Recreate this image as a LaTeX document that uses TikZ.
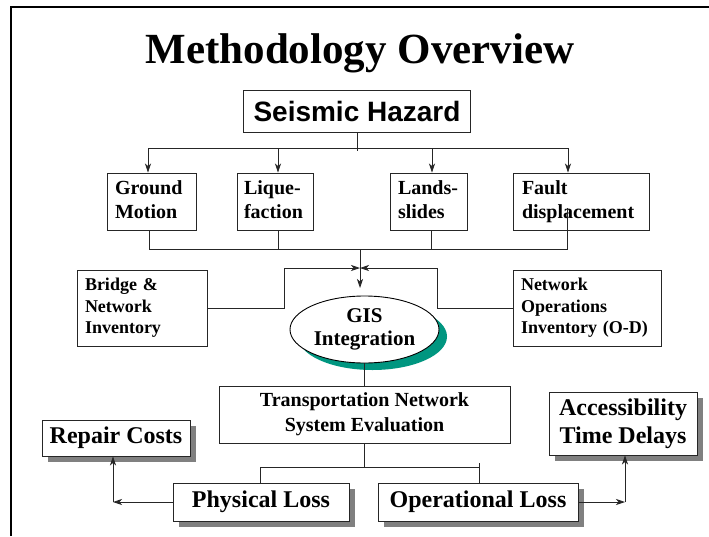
\documentclass[tikz,border=0pt]{standalone}
\usepackage{fontspec}
\setmainfont{Liberation Serif}
\newfontfamily\arialfont{Liberation Sans}
\usetikzlibrary{shapes.geometric,arrows.meta,shadows}
\definecolor{tealshadow}{RGB}{0,150,128}
\definecolor{shadowgray}{RGB}{128,128,128}
\begin{document}
\begin{tikzpicture}[x=1pt,y=-1pt,
  box/.style={draw=black!85, line width=0.9pt, fill=white, inner sep=0pt, font=\bfseries},
  shbox/.style={box, drop shadow={shadow xshift=6pt, shadow yshift=-6pt, fill=shadowgray, opacity=1}},
  hz/.style={box, font=\fontsize{20}{24}\selectfont\bfseries, align=left, minimum height=57pt},
  inv/.style={box, font=\fontsize{18}{21.5}\selectfont\bfseries, align=left, minimum height=76pt},
  big/.style={font=\fontsize{24}{28}\selectfont\bfseries, align=center},
  arr/.style={-{Stealth[length=9pt,width=6pt,inset=2.5pt]}},
  ln/.style={line width=0.8pt, draw=black!85}]

\useasboundingbox (0,0) rectangle (709,536);
\fill[white] (0,0) rectangle (709,536);
\draw[line width=2.5pt] (11,536) -- (11,7) -- (709,7);

% title
\node[anchor=base, font=\fontsize{43}{48}\selectfont\bfseries] (title) at (360,63) {Methodology Overview};

% seismic hazard
\node[box, font=\arialfont\bfseries\fontsize{28}{32}\selectfont, minimum width=227pt, minimum height=42pt] (sh) at (357,111) {Seismic Hazard};

% hazard boxes
\node[hz, text width=73pt, inner xsep=8pt] (gm) at (151.5,201.5) {\strut Ground\\Motion\strut};
\node[hz, text width=62pt, inner xsep=7pt] (lq) at (275,201.5) {\strut Lique-\\faction\strut};
\node[hz, text width=61pt, inner xsep=8pt] (ls) at (428.5,201.5) {\strut Lands-\\slides\strut};
\node[hz, text width=118pt, inner xsep=9pt] (fd) at (581,201.5) {\strut Fault\\displacement\strut};

% upper bus
\coordinate (sbot) at (357,151);
\coordinate (s1) at (148,148);
\coordinate (s2) at (278,148);
\coordinate (s3) at (432,148);
\coordinate (s4) at (568,148);
\draw[ln] (sh.south) -- (sbot);
\draw[ln] (s1) -- (s4);
\foreach \c/\n in {s1/gm,s2/lq,s3/ls,s4/fd} \draw[ln,arr] (\c) -- (\c |- \n.north);

% lower bus
\coordinate (m1) at (149,249);
\coordinate (m2) at (278,249);
\coordinate (m3) at (431,249);
\coordinate (m4) at (567,249);
\coordinate (f4) at (567,208);
\coordinate (mc) at (360,249);
\draw[ln] (gm.south -| m1) -- (m1) -- (m4) -- (f4);
\draw[ln] (lq.south -| m2) -- (m2);
\draw[ln] (ls.south -| m3) -- (m3);

% inventories
\node[inv, text width=114pt, inner xsep=8pt] (bi) at (142,308) {Bridge \&\\Network\\Inventory};
\node[inv, text width=132pt, inner xsep=8pt] (no) at (587,308) {Network\\Operations\\Inventory (O-D)};

% junction
\coordinate (jc) at (360,268);
\coordinate (ja) at (360,288);
\coordinate (jl) at (284,268);
\coordinate (jr) at (437,268);
\draw[ln,arr] (mc) -- (ja);
\draw[ln,arr] (bi.east) -| (jl) -- (jc);
\draw[ln,arr] (no.west) -| (jr) -- (jc);

% GIS
\node[ellipse, draw=black, line width=0.9pt, fill=white, minimum width=149pt, minimum height=67pt, inner sep=0pt, align=center, font=\fontsize{21}{23}\selectfont\bfseries, drop shadow={shadow xshift=8pt, shadow yshift=-7pt, fill=tealshadow, opacity=1}] (gis) at (364.5,329.5) {GIS\\Integration};

% transportation
\node[box, font=\fontsize{20}{25}\selectfont\bfseries, align=center, minimum width=291pt, minimum height=57pt] (tn) at (364.5,414.5) {Transportation Network\\System Evaluation};
\draw[ln] (gis.south) -- (gis.south |- tn.north);

% losses
\node[shbox, big, minimum width=176pt, minimum height=38pt] (pl) at (261,502) {Physical Loss};
\node[shbox, big, minimum width=200pt, minimum height=38pt] (ol) at (478,502) {Operational Loss};
\node[shbox, big, minimum width=148pt, minimum height=36pt] (rc) at (116,438) {Repair Costs};
\node[shbox, big, minimum width=148pt, minimum height=63pt] (acc) at (623,423.5) {Accessibility\\Time Delays};

% bottom bus
\coordinate (p1) at (260,467);
\coordinate (p2) at (479,467);
\coordinate (p2t) at (479,463);
\draw[ln] (tn.south) -- (tn.south |- p1);
\draw[ln] (pl.north -| p1) -- (p1) -- (p2);
\draw[ln] (p2t) -- (p2t |- ol.north);

% outcome arrows
\coordinate (cl) at (113,502);
\coordinate (cr) at (625,502);
\draw[ln,arr] (pl.west) -- (cl);
\draw[ln,arr] (cl) -- (cl |- rc.south);
\draw[ln,arr] (ol.east) -- (cr);
\draw[ln,arr] (cr) -- (cr |- acc.south);
\end{tikzpicture}
\end{document}
